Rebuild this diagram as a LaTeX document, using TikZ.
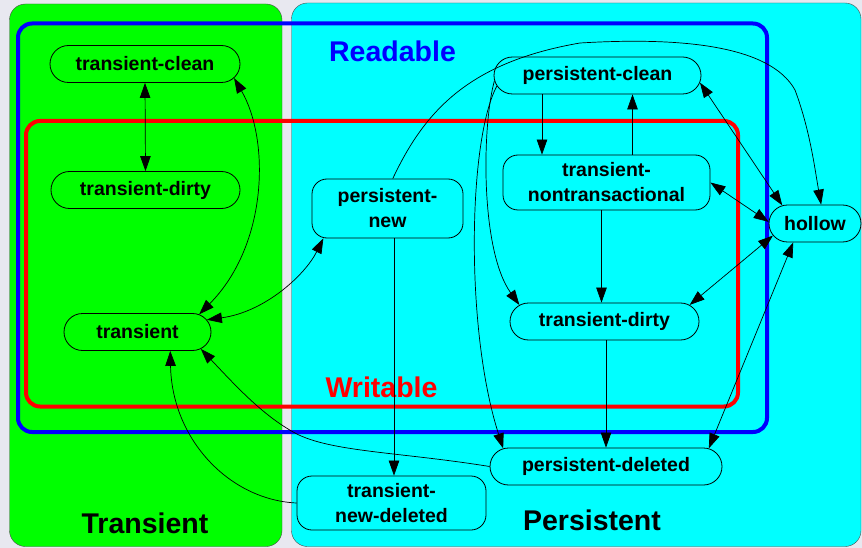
\documentclass[tikz,border=0pt]{standalone}
\usepackage{fontspec}
\setmainfont{Liberation Sans}
\usepackage{tikz}
\usetikzlibrary{arrows.meta,shapes.misc}

\definecolor{fon}{HTML}{E8E8F0}
\definecolor{zelen}{HTML}{00FF00}
\definecolor{goluboj}{HTML}{00FFFF}

\tikzset{
  sost/.style={draw, line width=0.8pt, rounded rectangle, minimum height=37pt, inner sep=0pt,
    font=\fontsize{19.5}{25}\selectfont\bfseries},
  sostdva/.style={draw, line width=0.8pt, rectangle, rounded corners=15pt, inner sep=0pt, align=center,
    font=\fontsize{19.5}{25}\selectfont\bfseries},
  metka/.style={font=\fontsize{28.5}{32}\selectfont\bfseries},
  oblast/.style={line width=4pt, rounded corners=14pt},
  perehod/.style={-{Triangle[length=15pt,width=10.5pt]}, line width=0.7pt},
  dvoj/.style={{Triangle[length=15pt,width=10.5pt]}-{Triangle[length=15pt,width=10.5pt]}, line width=0.7pt}
}

\begin{document}
\begin{tikzpicture}[x=1pt,y=-1pt]
% фон
\useasboundingbox (0,0) rectangle (862,548);
\fill [fon] (0,0) rectangle (862,548);
% области
\draw [fill=zelen, draw=black!70, rounded corners=16pt] (9.5,4) rectangle (282,546.5);
\draw [fill=goluboj, draw=black!70, rounded corners=16pt] (291.5,3) rectangle (861,546.5);
\draw [oblast, blue] (18,23.5) rectangle (767,432);
\draw [oblast, red] (26,121) rectangle (738,406.5);
% подписи
\node [metka, blue, anchor=base] (readable) at (392.5,62) {Readable};
\node [metka, red, anchor=base] (writable) at (381.5,397) {Writable};
\node [metka, anchor=base] (transientlbl) at (145,533) {Transient};
\node [metka, anchor=base] (persistentlbl) at (592,530) {Persistent};
% состояния
\node [sost, fill=zelen, minimum width=190pt] (tclean) at (145,64) {transient-clean};
\node [sost, fill=zelen, minimum width=189pt] (tdirty) at (145.5,190) {transient-dirty};
\node [sost, fill=zelen, minimum width=147pt] (trans) at (137.5,332) {transient};
\node [sostdva, fill=goluboj, minimum width=151pt, minimum height=59pt] (pnew) at (387.5,208.5) {persistent-\\new};
\node [sost, fill=goluboj, minimum width=207pt] (pclean) at (597.5,75.5) {persistent-clean};
\node [sostdva, fill=goluboj, minimum width=207pt, minimum height=55pt] (tnontx) at (606.5,182.5) {transient-\\nontransactional};
\node [sost, fill=goluboj, minimum width=92pt] (hollow) at (815,223.5) {hollow};
\node [sost, fill=goluboj, minimum width=189pt] (pdirty) at (604.5,321.5) {transient-dirty};
\node [sost, fill=goluboj, minimum width=232pt] (pdeleted) at (606,466.5) {persistent-deleted};
\node [sostdva, fill=goluboj, minimum width=189pt, minimum height=54pt] (tnewdel) at (391.5,503) {transient-\\new-deleted};
% переходы
\draw [dvoj] (tclean.south) -- (tdirty.north);
\draw [dvoj] (tclean.-9) .. controls (270,140) and (268,245) .. (trans.16);
\draw [dvoj] (trans.10) .. controls (265,312) and (305,275) .. (pnew.205);
\draw [perehod] ([xshift=6.5pt]pnew.south) -- ([xshift=6.5pt]pnew.south |- tnewdel.north);
\draw [perehod] (tnewdel.west) .. controls (230,500) and (172,440) .. (trans.-30);
\draw [perehod] (pdeleted.west) .. controls (400,452) and (330,452) .. (295,433)
  .. controls (262,415) and (235,385) .. (trans.-15);
\draw [perehod] (pnew.80) .. controls (425,110) and (470,62) .. (580,43)
  .. controls (680,37) and (770,45) .. (795,90) .. controls (810,130) and (815,170) .. (hollow.72);
\draw [perehod] ([xshift=-55.5pt]pclean.south) -- ([xshift=-55.5pt]pclean.south |- tnontx.north);
\draw [perehod] ([xshift=26pt]tnontx.north) -- ([xshift=26pt]tnontx.north |- pclean.south);
\draw [perehod] ([xshift=-5pt]tnontx.south) -- ([xshift=-5pt]tnontx.south |- pdirty.north);
\draw [perehod] ([xshift=1.5pt]pdirty.south) -- ([xshift=1.5pt]pdirty.south |- pdeleted.north);
\draw [perehod] (pclean.183) .. controls (482,125) and (480,250) .. (pdirty.169);
\draw [perehod] (pclean.186) .. controls (468,140) and (465,330) .. (pdeleted.170);
\draw [dvoj] (pclean.-4) -- (hollow.151);
\draw [dvoj] (tnontx.east) -- (hollow.178);
\draw [dvoj] (pdirty.11) -- (hollow.196);
\draw [dvoj] (hollow.221) -- (pdeleted.10);
\end{tikzpicture}
\end{document}
